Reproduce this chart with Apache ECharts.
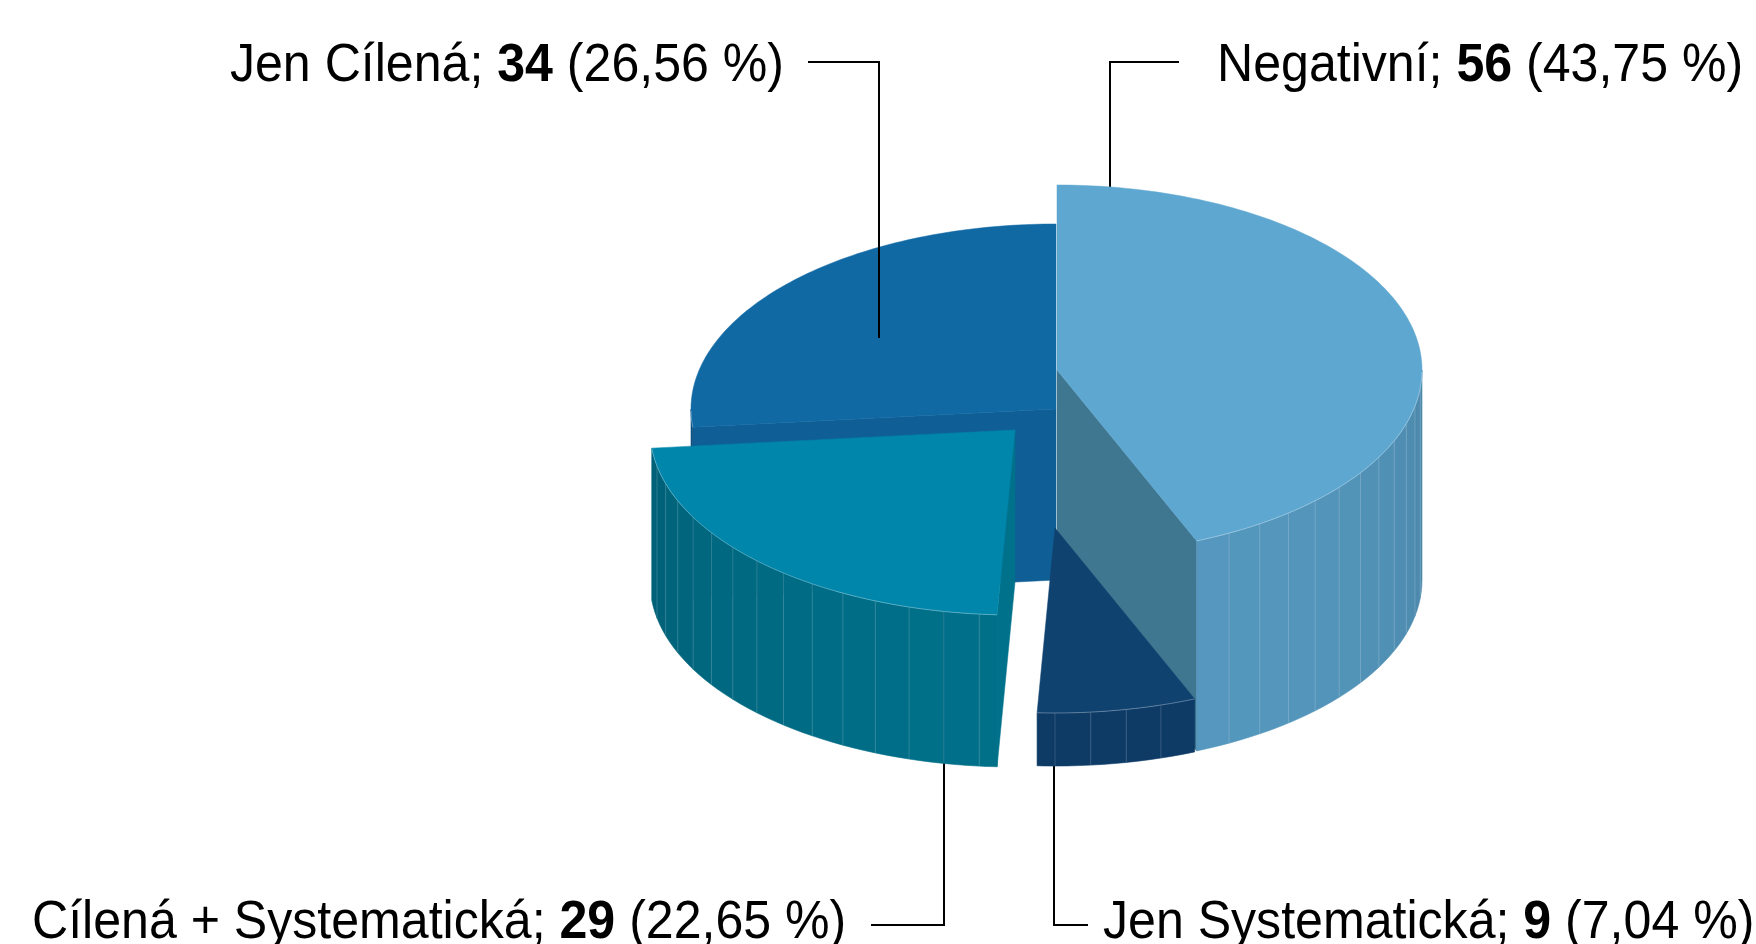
<!DOCTYPE html>
<html><head><meta charset="utf-8">
<script src="https://cdn.jsdelivr.net/npm/echarts@6/dist/echarts.min.js"></script>
<style>html,body{margin:0;padding:0;background:#fff}#c{width:1756px;height:944px}</style>
</head><body><div id="c"></div>
<script>
// ---- data ----
const categories = ['Negativní', 'Jen Systematická', 'Cílená + Systematická', 'Jen Cílená'];
const values = [56, 9, 29, 34];
const percentLabels = ['43,75', '7,04', '22,65', '26,56'];

// ---- style / layout ----
const topColors = ['#5ea7d0', '#104270', '#0086ab', '#1169a4'];
const wallColors = ['#5598bf', '#0e3a66', '#00708a', '#10609a'];
const cutColors = ['#3f7791', '#0d3960', '#00718b', '#0f5f96'];
const sliceOffsets = [[1, -39], [-1, 119], [-41, 21], [0, 0]];
const sliceHeights = [210, 53, 152, 171];
const pieCenter = [1056, 409];
const radiusX = 365, radiusY = 185;
const startAngle = -90;
const facetStep = 360 / 64;
const labelFont = '"Liberation Sans", Arial, sans-serif';
const labelSize = 53;
const labelScaleX = 0.945;
const labelLayout = [
  { pos: [1217, 66], align: 'left', line: [[1179, 62], [1110, 62], [1110, 338]] },
  { pos: [1103, 923], align: 'left', line: [[1054, 661], [1054, 925], [1088, 925]] },
  { pos: [32, 923], align: 'left', line: [[871, 925], [944, 925], [944, 523]] },
  { pos: [784, 66], align: 'right', line: [[808, 62], [879, 62], [879, 338]] }
];

const total = values.reduce((a, b) => a + b, 0);
const cum = [];
values.reduce((acc, v, i) => { cum[i] = acc; return acc + v; }, 0);

function shade(hex, f) {
  const n = parseInt(hex.slice(1), 16);
  const r = Math.min(255, Math.round(((n >> 16) & 255) * f));
  const g = Math.min(255, Math.round(((n >> 8) & 255) * f));
  const b = Math.min(255, Math.round((n & 255) * f));
  return 'rgb(' + r + ',' + g + ',' + b + ')';
}
const rad = d => d * Math.PI / 180;

function renderItem(params, api) {
  const i = params.dataIndex;
  const v = api.value(1);
  const a1 = startAngle + 360 * cum[i] / total;
  const a2 = a1 + 360 * v / total;
  const mid = (a1 + a2) / 2;
  const cx = pieCenter[0] + sliceOffsets[i][0];
  const cy = pieCenter[1] + sliceOffsets[i][1];
  const h = sliceHeights[i];
  const P = (a, dz) => [cx + radiusX * Math.cos(rad(a)), cy + radiusY * Math.sin(rad(a)) + (dz || 0)];
  const base = Math.round((Math.sin(rad(mid)) + 1) * 100) * 100;
  let k = 0;
  const children = [];

  // cut faces
  const cut = (theta, normal) => {
    if (Math.sin(rad(normal)) > 0.001) {
      children.push({
        type: 'polygon', z2: base + (k++),
        shape: { points: [[cx, cy], P(theta), P(theta, h), [cx, cy + h]] },
        style: { fill: cutColors[i], stroke: cutColors[i], lineWidth: 0.5 }
      });
    }
  };
  cut(a1, a1 - 90);
  cut(a2, a2 + 90);

  // outer wall facets
  const bounds = [a1];
  let b = Math.ceil(a1 / facetStep + 1e-6) * facetStep;
  while (b < a2 - 1e-6) { bounds.push(b); b += facetStep; }
  bounds.push(a2);
  const lines = [];
  for (let j = 0; j < bounds.length - 1; j++) {
    const b0 = bounds[j], b1 = bounds[j + 1];
    const m = (b0 + b1) / 2;
    if (Math.sin(rad(m)) <= 0) continue;
    const f = 1 - 0.13 * (1 - Math.cos(rad(m - 80)));
    const col = shade(wallColors[i], f);
    const pts = [];
    const n = 3;
    for (let s = 0; s <= n; s++) pts.push(P(b0 + (b1 - b0) * s / n));
    for (let s = n; s >= 0; s--) pts.push(P(b0 + (b1 - b0) * s / n, h));
    children.push({
      type: 'polygon', z2: base + (k++),
      shape: { points: pts },
      style: { fill: col, stroke: col, lineWidth: 0.6 }
    });
    if (j > 0) lines.push(b0);
  }
  lines.forEach(a => {
    if (Math.sin(rad(a)) <= 0) return;
    const p0 = P(a), p1 = P(a, h);
    children.push({
      type: 'line', z2: base + 50,
      shape: { x1: p0[0], y1: p0[1], x2: p1[0], y2: p1[1] },
      style: { stroke: 'rgba(255,255,255,0.16)', lineWidth: 1 }
    });
  });

  // top face
  const topPts = [[cx, cy]];
  const steps = Math.max(8, Math.ceil((a2 - a1) / 1));
  for (let s = 0; s <= steps; s++) topPts.push(P(a1 + (a2 - a1) * s / steps));
  children.push({
    type: 'polygon', z2: base + 60,
    shape: { points: topPts },
    style: { fill: topColors[i], stroke: topColors[i], lineWidth: 0.5 }
  });
  const rim = [];
  for (let s = 0; s <= steps; s++) {
    const a = a1 + (a2 - a1) * s / steps;
    if (Math.sin(rad(a)) > 0) rim.push(P(a));
  }
  if (rim.length > 1) {
    children.push({
      type: 'polyline', z2: base + 61,
      shape: { points: rim },
      style: { stroke: 'rgba(255,255,255,0.3)', lineWidth: 1, fill: null }
    });
  }

  // leader line + label
  const L = labelLayout[i];
  children.push({
    type: 'polyline', z2: 5000,
    shape: { points: L.line },
    style: { stroke: '#000', lineWidth: 2, fill: null }
  });
  children.push({
    type: 'text', z2: 5001,
    x: L.pos[0], y: L.pos[1], scaleX: labelScaleX,
    style: {
      text: categories[i] + '; {b|' + v + '} (' + percentLabels[i] + ' %)',
      align: L.align, verticalAlign: 'middle',
      fontFamily: labelFont, fontSize: labelSize, fill: '#000',
      rich: { b: { fontFamily: labelFont, fontSize: labelSize, fontWeight: 'bold', fill: '#000' } }
    }
  });

  return { type: 'group', children: children };
}

const chart = echarts.init(document.getElementById('c'), null, { renderer: 'canvas' });
chart.setOption({
  animation: false,
  backgroundColor: '#ffffff',
  series: [{
    type: 'custom',
    coordinateSystem: 'none',
    renderItem: renderItem,
    data: values.map((v, i) => [i, v]),
    silent: true
  }]
});
</script></body></html>
